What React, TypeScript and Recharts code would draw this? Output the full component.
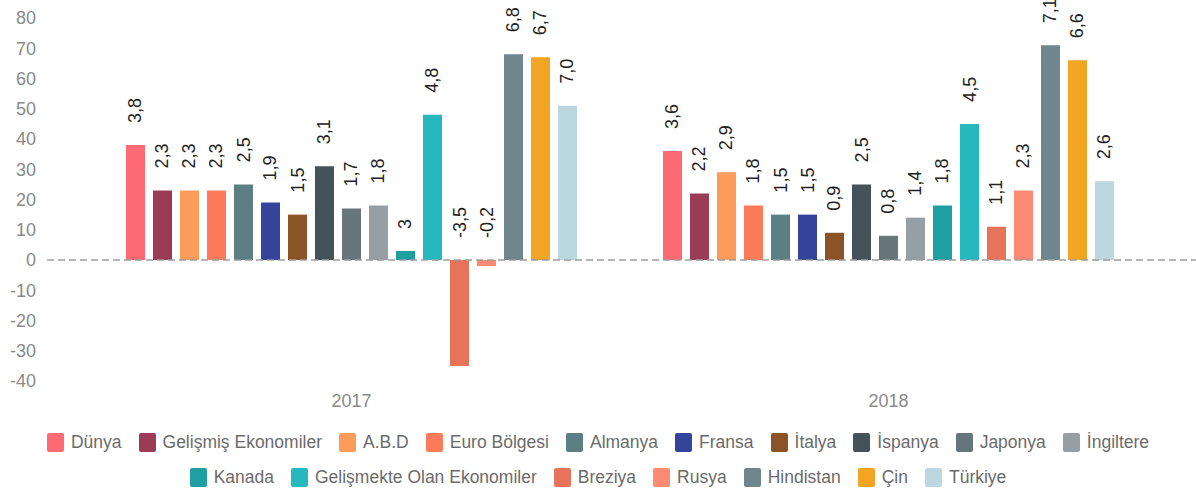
import {Bar, BarChart, LabelList, Legend, ReferenceLine, XAxis, YAxis} from 'recharts'
import {JSX} from 'react'

const years = ['2017', '2018']

const seriesNames = [
	'Dünya', 'Gelişmiş Ekonomiler', 'A.B.D', 'Euro Bölgesi', 'Almanya', 'Fransa', 'İtalya', 'İspanya', 'Japonya',
	'İngiltere', 'Kanada', 'Gelişmekte Olan Ekonomiler', 'Breziya', 'Rusya', 'Hindistan', 'Çin', 'Türkiye',
]

const seriesColors = [
	'#fd6a73', '#9a3c55', '#fd9b5a', '#fb7b5b', '#5c7f83', '#34449a', '#8b5427', '#44535a', '#66767a',
	'#959fa4', '#1f9fa1', '#25b9bf', '#e8735b', '#fd8a73', '#6e868c', '#f2a523', '#bcd8df',
]

// bar heights as drawn
const values2017 = [38, 23, 23, 23, 25, 19, 15, 31, 17, 18, 3, 48, -35, -2, 68, 67, 51]
const values2018 = [36, 22, 29, 18, 15, 15, 9, 25, 8, 14, 18, 45, 11, 23, 71, 66, 26]

// printed labels
const labels2017 = ['3,8', '2,3', '2,3', '2,3', '2,5', '1,9', '1,5', '3,1', '1,7', '1,8', '3', '4,8', '-3,5', '-0,2', '6,8', '6,7', '7,0']
const labels2018 = ['3,6', '2,2', '2,9', '1,8', '1,5', '1,5', '0,9', '2,5', '0,8', '1,4', '1,8', '4,5', '1,1', '2,3', '7,1', '6,6', '2,6']

const yTicks = [-40, -30, -20, -10, 0, 10, 20, 30, 40, 50, 60, 70, 80]

const buildRow = (year: string, values: number[], labels: string[]) => {
	const row: Record<string, string | number> = {year}
	seriesNames.forEach((name, i) => {
		row['v' + i] = values[i]
		row['l' + i] = labels[i]
	})
	return row
}

const data = [
	buildRow(years[0], values2017, labels2017),
	buildRow(years[1], values2018, labels2018),
]

const RotatedLabel = (props: any) => {
	const vb = props.viewBox ?? props
	const x = Number(vb.x)
	const y = Number(vb.y)
	const w = Number(vb.width)
	const h = Number(vb.height)
	const top = Math.min(y, y + h)
	const cx = x + w / 2
	const ty = top - 22
	return (
		<text x={cx} y={ty} transform={`rotate(-90 ${cx} ${ty})`} textAnchor='start' dominantBaseline='central'
			fontSize={18} fill='#222'>
			{props.value}
		</text>
	)
}

const LegendRows = (): JSX.Element => {
	const rows = [seriesNames.slice(0, 10), seriesNames.slice(10)]
	let k = 0
	return (
		<div>
			{rows.map((row, r) => (
				<div key={r} style={{display: 'flex', justifyContent: 'center', alignItems: 'center', height: 35}}>
					{row.map((name, j) => {
						const color = seriesColors[k++]
						return (
							<div key={name} style={{display: 'flex', alignItems: 'center', marginLeft: j === 0 ? 0 : 17}}>
								<span style={{display: 'inline-block', width: 17, height: 19, borderRadius: 2, background: color, marginRight: 7}} />
								<span style={{fontSize: 17.5, color: '#6b6b6b'}}>{name}</span>
							</div>
						)
					})}
				</div>
			))}
		</div>
	)
}

const App = (): JSX.Element => {
	return (
		<div style={{position: 'absolute', left: 0, top: 0, fontFamily: '"Liberation Sans", Arial, sans-serif'}}>
			<BarChart width={1196} height={497} data={data} barSize={19} barGap={8}
				margin={{top: 18, right: 0, left: 0, bottom: 86}}>
				<XAxis dataKey='year' axisLine={false} tickLine={false} tickSize={0} tickMargin={13} height={30}
					padding={{left: 36, right: 39}} tick={{fontSize: 18, fill: '#8a8a8a'}} />
				<YAxis domain={[-40, 80]} ticks={yTicks} width={47} axisLine={false} tickLine={false} tickSize={0}
					tickMargin={11} interval={0} tick={{fontSize: 18, fill: '#8a8a8a'}} />
				<Legend layout='horizontal' verticalAlign='middle' align='center'
					wrapperStyle={{top: 425, left: 0, width: 1196}} content={() => <LegendRows />} />
				{seriesNames.map((name, i) => (
					<Bar key={name} name={name} dataKey={'v' + i} fill={seriesColors[i]} isAnimationActive={false}>
						<LabelList dataKey={'l' + i} content={RotatedLabel} />
					</Bar>
				))}
				<ReferenceLine y={0} stroke='#9d9d9d' strokeWidth={1.5} strokeDasharray='7 4' />
			</BarChart>
		</div>
	)
}

export default App
